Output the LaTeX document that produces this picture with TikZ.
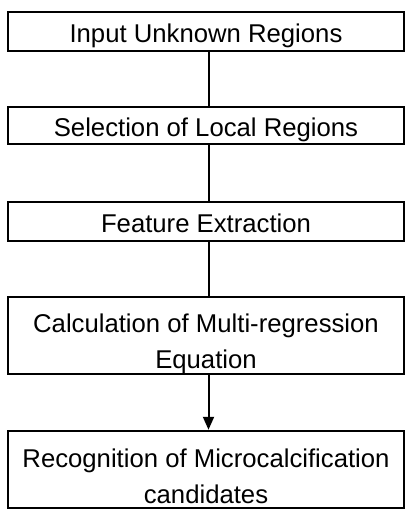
\documentclass[tikz,border=0pt]{standalone}
\usepackage{fontspec}
\setmainfont{Liberation Sans}
\usetikzlibrary{arrows.meta}
\begin{document}
\begin{tikzpicture}[x=1pt,y=1pt,
  stepbox/.style={draw=black, line width=2pt, minimum width=396pt, inner sep=0pt,
    align=center, text height=23pt, text depth=0pt, font=\fontsize{25.7}{36}\selectfont},
  link/.style={draw=black, line width=2pt}]
\useasboundingbox (0,0) rectangle (406,-510);
\node[stepbox, minimum height=39pt]   (b1) at (206,-31.2)  {Input Unknown Regions};
\node[stepbox, minimum height=37.6pt] (b2) at (206,-125.5) {Selection of Local Regions};
\node[stepbox, minimum height=38.4pt] (b3) at (206,-221.5) {Feature Extraction};
\node[stepbox, minimum height=77.6pt, text height=65.6pt] (b4) at (206,-335.5) {Calculation of Multi-regression\\Equation};
\node[stepbox, minimum height=77.3pt, text height=67.2pt] (b5) at (206,-469.4) {Recognition of Microcalcification\\candidates};
\draw[link] ([xshift=2.5pt]b1.south) -- ([xshift=2.5pt]b2.north);
\draw[link] ([xshift=2.5pt]b2.south) -- ([xshift=2.5pt]b3.north);
\draw[link] ([xshift=2.5pt]b3.south) -- ([xshift=2.5pt]b4.north);
\draw[link, -{Triangle[length=13pt,width=11pt]}] ([xshift=2.5pt]b4.south) -- ([xshift=2.5pt]b5.north);
\end{tikzpicture}
\end{document}
